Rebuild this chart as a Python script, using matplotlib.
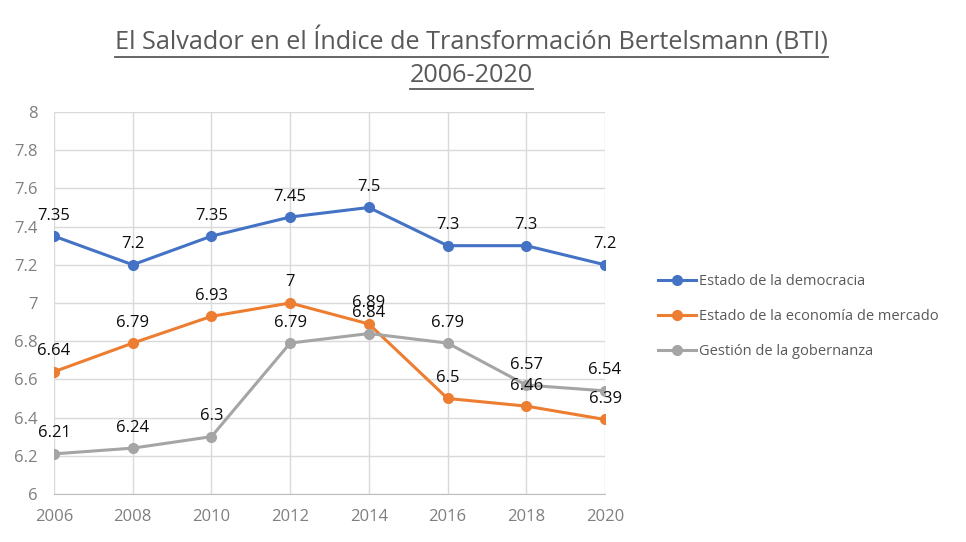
import matplotlib
matplotlib.use('Agg')
from matplotlib import pyplot as plt
from matplotlib.lines import Line2D

plt.rcParams['font.family'] = ['Open Sans', 'DejaVu Sans']

# datos BTI
years = [2006, 2008, 2010, 2012, 2014, 2016, 2018, 2020]
democracia = [7.35, 7.2, 7.35, 7.45, 7.5, 7.3, 7.3, 7.2]
economia = [6.64, 6.79, 6.93, 7.0, 6.89, 6.5, 6.46, 6.39]
gobernanza = [6.21, 6.24, 6.3, 6.79, 6.84, 6.79, 6.57, 6.54]
series_names = ['Estado de la democracia', 'Estado de la economía de mercado', 'Gestión de la gobernanza']
y_ticks = [6, 6.2, 6.4, 6.6, 6.8, 7, 7.2, 7.4, 7.6, 7.8, 8]

colors = ['#4472C4', '#ED7D31', '#A5A5A5']

fig = plt.figure(figsize=(9.66, 5.42), dpi=100)
ax = fig.add_axes([0.0559, 0.0886, 0.5704, 0.7048])

for vals, name, c in zip([democracia, economia, gobernanza], series_names, colors):
    ax.plot(years, vals, color=c, lw=2.2, marker='o', markersize=7, label=name, zorder=3)
    for x, y in zip(years, vals):
        ax.annotate('{:g}'.format(y), (x, y), xytext=(0, 9), textcoords='offset points',
                    ha='center', va='bottom', fontsize=12, color='#0d0d0d', clip_on=False, zorder=4)

ax.set_xlim(2006, 2020)
ax.set_ylim(6, 8)
ax.set_xticks(years)
ax.set_yticks(y_ticks)
ax.set_yticklabels(['{:g}'.format(t) for t in y_ticks])
ax.tick_params(axis='both', length=0, labelsize=12, labelcolor='#7f7f7f')
ax.tick_params(axis='x', pad=11)
ax.tick_params(axis='y', pad=12)
ax.grid(True, color='#d9d9d9', lw=1, zorder=0)
ax.set_axisbelow(True)
for s in ['top', 'right', 'left']:
    ax.spines[s].set_visible(False)
ax.spines['bottom'].set_color('#bfbfbf')

leg = fig.legend(loc='upper left', bbox_to_anchor=(0.668, 0.518), frameon=False,
                 fontsize=10.5, labelcolor='#595959', handlelength=2.6, handletextpad=0.2,
                 labelspacing=1.35)

# titulo subrayado
t1 = fig.text(0.488, 0.924, 'El Salvador en el Índice de Transformación Bertelsmann (BTI)',
              ha='center', va='center', fontsize=18.2, color='#595959')
t2 = fig.text(0.488, 0.86, '2006-2020', ha='center', va='center', fontsize=18.2, color='#595959')
fig.canvas.draw()
r = fig.canvas.get_renderer()
for t in [t1, t2]:
    bb = t.get_window_extent(r).transformed(fig.transFigure.inverted())
    yy = bb.y0 - 0.002
    fig.add_artist(Line2D([bb.x0, bb.x1], [yy, yy], color='#595959', lw=1.3))

fig.savefig('out.png', dpi=100)
